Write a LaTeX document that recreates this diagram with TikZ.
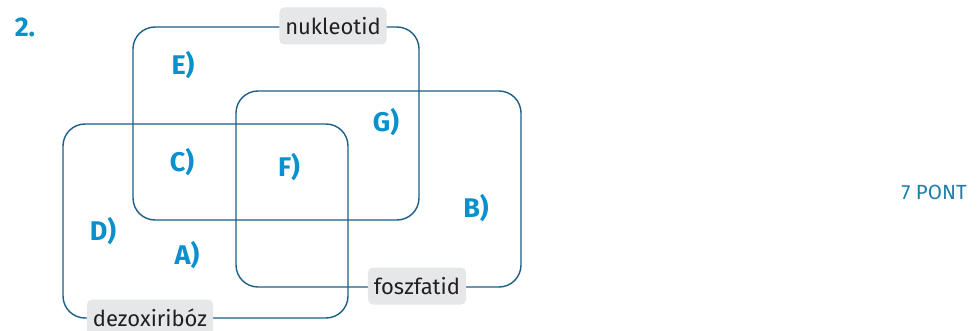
\documentclass[tikz,border=0pt]{standalone}
\usepackage{fontspec}
\setmainfont{Fira Sans}
\definecolor{setline}{HTML}{1B5E86}
\definecolor{letterblue}{HTML}{0A90CC}
\definecolor{tagfill}{HTML}{E6E7E8}
\definecolor{tagtext}{HTML}{231F20}
\definecolor{pontcol}{HTML}{1D7FA8}
\begin{document}
\begin{tikzpicture}[x=1pt,y=-1pt,
  setbox/.style={draw=setline,line width=1.4pt,rounded corners=22pt},
  tag/.style={fill=tagfill,text=tagtext,rounded corners=5pt,font=\fontsize{22}{26}\selectfont,inner xsep=6pt,inner ysep=0pt,minimum height=37pt},
  region/.style={text=letterblue,font=\fontsize{27}{32}\selectfont\bfseries,inner sep=0pt}]
\useasboundingbox (0,0) rectangle (979,331);
% the three sets
\draw[setbox] (133,27) rectangle (419,220);
\draw[setbox] (236,91) rectangle (521,287);
\draw[setbox] (63,124) rectangle (348,318);
% set names
\node[tag] (nukl) at (333,26) {nukleotid};
\node[tag] (fosz) at (417,286) {foszfatid};
\node[tag] (dezo) at (150,318) {dezoxiribóz};
% task number and score
\node[region] (num) at (25,27) {2.};
\node[text=pontcol,font=\fontsize{20.5}{24}\selectfont,inner sep=0pt] (pont) at (934,192) {7 PONT};
% region letters
\node[region] (E) at (183,65) {E)};
\node[region] (G) at (386,122) {G)};
\node[region] (C) at (182,162) {C)};
\node[region] (F) at (289,167) {F)};
\node[region] (B) at (476,208) {B)};
\node[region] (D) at (103,231) {D)};
\node[region] (A) at (187,255) {A)};
\end{tikzpicture}
\end{document}
